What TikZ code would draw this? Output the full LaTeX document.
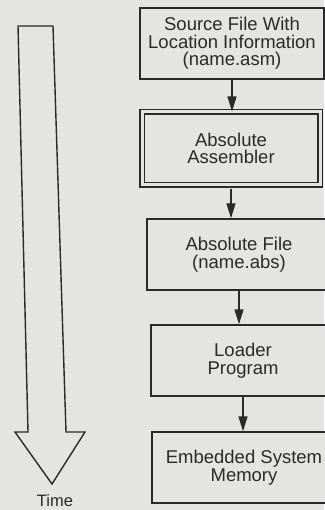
\documentclass[tikz,border=0pt]{standalone}
\usepackage{fontspec}
\setmainfont{Liberation Sans}
\usetikzlibrary{arrows.meta,calc}
\definecolor{bgc}{HTML}{E4E4E2}
\definecolor{ink}{HTML}{2A2A2A}
\tikzset{
  flowbox/.style={draw=ink, line width=1.4pt, fill=bgc, text=ink, align=center,
    minimum width=184pt, minimum height=71pt, inner sep=0pt,
    font=\fontsize{18.5}{17.5}\selectfont},
  dblbox/.style={flowbox, double=bgc, double distance=3pt, line width=1.2pt,
    minimum width=178pt, minimum height=73pt},
  flowarrow/.style={draw=ink, line width=1.4pt, -{Triangle[length=15pt,width=9pt]}},
  timearrow/.style={draw=ink, line width=1.4pt, line join=miter}
}
\begin{document}
\begin{tikzpicture}[x=1pt,y=-1pt]
\useasboundingbox (0,0) rectangle (324,510);
\fill[bgc] (0,0) rectangle (324,510);
% big time arrow
\draw[timearrow] (18,26) -- (53,26) -- (66,432) -- (85,432) -- (52,484) -- (15,432) -- (28,432) -- cycle;
\node[text=ink, font=\fontsize{16.5}{16.5}\selectfont] (time) at (55,501) {Time};
% flow boxes
\node[flowbox] (b1) at (232,43.5) {Source File With\\Location Information\\(name.asm)};
\node[dblbox] (b2) at (231,148.5) {Absolute\\Assembler};
\node[flowbox] (b3) at (239,254.5) {Absolute File\\(name.abs)};
\node[flowbox] (b4) at (243,360.5) {Loader\\Program};
\node[flowbox] (b5) at (244,467.5) {Embedded System\\Memory};
% connectors
\draw[flowarrow] (b1.south) -- (b1.south |- b2.north);
\draw[flowarrow] ($(b2.south)+(0,3)$) -- (b2.south |- b3.north);
\draw[flowarrow] (b3.south) -- (b3.south |- b4.north);
\draw[flowarrow] (b4.south) -- (b4.south |- b5.north);
\end{tikzpicture}
\end{document}
